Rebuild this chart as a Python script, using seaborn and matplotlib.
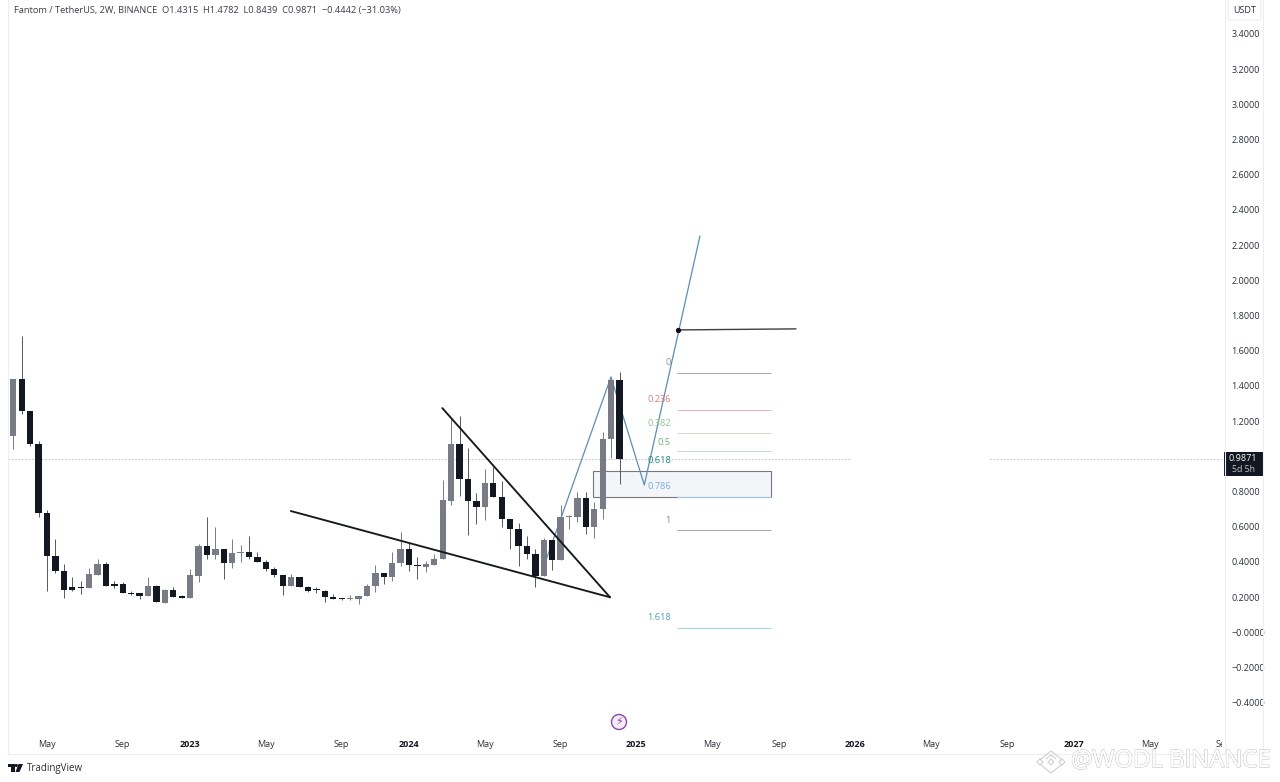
import matplotlib
matplotlib.use("Agg")
import matplotlib.pyplot as plt
import matplotlib.patheffects as pe
from matplotlib.patches import Rectangle, Circle, Polygon, FancyBboxPatch
from matplotlib.transforms import Bbox
import seaborn as sns
import pandas as pd

# bi-weekly candles
opens = [1.115, 1.437, 1.259, 1.070, 0.676, 0.433, 0.350, 0.255, 0.255, 0.253, 0.326, 0.386, 0.273, 0.273, 0.225, 0.221, 0.208, 0.263, 0.168, 0.240, 0.206, 0.197, 0.322, 0.490, 0.439,
         0.473, 0.392, 0.449, 0.456, 0.426, 0.401, 0.360, 0.324, 0.263, 0.312, 0.259, 0.240, 0.237, 0.202, 0.191, 0.188, 0.191, 0.206, 0.263, 0.335, 0.316, 0.392, 0.473, 0.380, 0.373,
         0.384, 0.418, 0.748, 1.070, 0.869, 0.748, 0.710, 0.846, 0.771, 0.642, 0.589, 0.490, 0.443, 0.322, 0.524, 0.413, 0.655, 0.655, 0.765, 0.596, 0.699, 1.098, 1.4315]
highs = [1.437, 1.683, 1.259, 1.089, 0.695, 0.528, 0.388, 0.316, 0.293, 0.363, 0.418, 0.401, 0.293, 0.288, 0.237, 0.225, 0.312, 0.268, 0.244, 0.259, 0.210, 0.358, 0.502, 0.653, 0.600,
         0.473, 0.532, 0.498, 0.547, 0.454, 0.411, 0.373, 0.324, 0.331, 0.312, 0.263, 0.255, 0.240, 0.218, 0.193, 0.212, 0.206, 0.274, 0.380, 0.335, 0.456, 0.570, 0.505, 0.426, 0.405,
         0.445, 0.865, 1.216, 1.229, 1.049, 0.793, 0.926, 0.941, 0.858, 0.642, 0.619, 0.547, 0.475, 0.536, 0.524, 0.721, 0.667, 0.795, 0.799, 0.740, 1.136, 1.452, 1.4782]
lows = [1.039, 1.240, 1.058, 0.653, 0.236, 0.335, 0.193, 0.236, 0.218, 0.253, 0.326, 0.263, 0.250, 0.221, 0.214, 0.187, 0.208, 0.170, 0.168, 0.202, 0.195, 0.197, 0.288, 0.418, 0.415,
        0.305, 0.367, 0.397, 0.415, 0.401, 0.350, 0.316, 0.212, 0.263, 0.259, 0.231, 0.221, 0.170, 0.189, 0.186, 0.186, 0.161, 0.206, 0.231, 0.274, 0.292, 0.377, 0.350, 0.305, 0.343,
        0.384, 0.418, 0.721, 0.774, 0.553, 0.615, 0.638, 0.771, 0.600, 0.475, 0.377, 0.415, 0.259, 0.322, 0.354, 0.413, 0.585, 0.625, 0.559, 0.534, 0.642, 0.988, 0.8439]
closes = [1.437, 1.259, 1.070, 0.676, 0.433, 0.350, 0.240, 0.240, 0.253, 0.329, 0.386, 0.263, 0.263, 0.221, 0.220, 0.208, 0.263, 0.170, 0.240, 0.202, 0.197, 0.326, 0.490, 0.441, 0.473,
          0.392, 0.449, 0.456, 0.426, 0.401, 0.360, 0.324, 0.263, 0.312, 0.259, 0.237, 0.238, 0.201, 0.191, 0.188, 0.191, 0.206, 0.263, 0.335, 0.314, 0.392, 0.473, 0.380, 0.377, 0.388,
          0.418, 0.752, 1.070, 0.869, 0.748, 0.710, 0.846, 0.771, 0.642, 0.589, 0.490, 0.443, 0.322, 0.524, 0.411, 0.655, 0.657, 0.765, 0.596, 0.699, 1.098, 1.4315, 0.9871]

y_ticks = [3.4, 3.2, 3.0, 2.8, 2.6, 2.4, 2.2, 2.0, 1.8, 1.6, 1.4, 1.2, 1.0, 0.8, 0.6, 0.4, 0.2, 0.0, -0.2, -0.4]
y_tick_labels = ["3.4000", "3.2000", "3.0000", "2.8000", "2.6000", "2.4000", "2.2000", "2.0000", "1.8000", "1.6000", "1.4000",
                 "1.2000", "", "0.8000", "0.6000", "0.4000", "0.2000", "\u22120.0000", "\u22120.2000", "\u22120.4000"]
x_tick_pos = [4, 13, 21, 30, 39, 47, 56, 65, 74, 83, 91, 100, 109, 118, 126, 135, 143.7]
x_tick_labels = ["May", "Sep", "2023", "May", "Sep", "2024", "May", "Sep", "2025", "May", "Sep", "2026", "May", "Sep", "2027", "May", "Sep"]

# drawn tools
wedge_top_x = [50.95, 70.87]
wedge_top_y = [1.274, 0.199]
wedge_low_x = [32.96, 70.87]
wedge_low_y = [0.689, 0.199]
path_x = [62.9, 70.98, 74.94, 81.55]
path_y = [0.360, 1.451, 0.837, 2.252]
target_x = [78.9, 92.95]
target_y = [1.718, 1.724]
fib_names = ["0", "0.236", "0.382", "0.5", "0.618", "0.786", "1", "1.618"]
fib_levels = [1.472, 1.263, 1.131, 1.028, 0.916, 0.767, 0.580, 0.023]
fib_label_y = [1.532, 1.320, 1.189, 1.081, 0.975, 0.827, 0.634, 0.083]
fib_line_colors = ["#a3a8bb", "#eeb0b0", "#cfdccf", "#c9d9c9", "#3f9a8e", "#9cc7e6", "#a6a8af", "#a3d6e6"]
fib_text_colors = ["#8d93a8", "#d9807f", "#8fc493", "#6fb274", "#1f8a80", "#78aedb", "#8a8d96", "#4d9fc2"]

last_price = 0.9871
FONT = "Open Sans"
UP = "#787b86"
DOWN = "#131722"
W, H = 1280, 782

sns.set_theme(style="white")
plt.rcParams["font.family"] = [FONT, "DejaVu Sans"]

df = pd.DataFrame({"bar": range(len(opens)), "open": opens, "high": highs, "low": lows, "close": closes})
df["body"] = (df["close"] - df["open"]).abs().clip(lower=0.006)
df["base"] = df[["open", "close"]].min(axis=1)
df["up"] = df["close"] >= df["open"]

fig = plt.figure(figsize=(W / 100, H / 100), dpi=100, facecolor="white")
ax = fig.add_axes([8 / W, 1 - 754 / H, (1227 - 8) / W, 754 / H])

for is_up, color in [(True, UP), (False, DOWN)]:
    part = df[df["up"] == is_up]
    ax.vlines(part["bar"], part["low"], part["high"], color=UP if is_up else "#55585f", linewidth=0.7, zorder=2)
    sns.barplot(data=part, x="bar", y="body", bottom=part["base"].to_numpy(), native_scale=True, errorbar=None,
                color=color, saturation=1, width=0.75, linewidth=0, zorder=3, ax=ax)

ax.add_patch(Rectangle((68.88, fib_levels[5]), 89.95 - 68.88, fib_levels[4] - fib_levels[5],
                       facecolor="#f4f5f9", edgecolor="#74777f", linewidth=0.8, zorder=1))

# last price line has a gap in the source image
ax.hlines(last_price, -0.63, 99.4, color="#b9bbc2", linewidth=0.6, linestyle=(0, (2, 2)), zorder=1)
ax.hlines(last_price, 116, 143.7, color="#b9bbc2", linewidth=0.6, linestyle=(0, (2, 2)), zorder=1)

sns.lineplot(x=wedge_top_x, y=wedge_top_y, sort=False, color="#16181f", linewidth=1.35, ax=ax, zorder=5)
sns.lineplot(x=wedge_low_x, y=wedge_low_y, sort=False, color="#16181f", linewidth=1.35, ax=ax, zorder=5)
sns.lineplot(x=path_x, y=path_y, sort=False, color="#5a8fb2", linewidth=0.9, ax=ax, zorder=2.5)
sns.lineplot(x=target_x, y=target_y, sort=False, color="#3a3d44", linewidth=1.0, ax=ax, zorder=5)
ax.plot(target_x[0], target_y[0], "o", color="#111111", markersize=2.8, zorder=6)

for name, level, label_y, line_c, text_c in zip(fib_names, fib_levels, fib_label_y, fib_line_colors, fib_text_colors):
    if name != "0.618":
        ax.hlines(level, 78.79, 89.99, color=line_c, linewidth=0.75, zorder=2)
    ax.text(78.1, label_y, name, color=text_c, fontsize=6.7, ha="right", va="center", zorder=6)

ax.set_xlim(-0.63, (1227 - 13.3) / 8.42)
ax.set_ylim((632.3 - 754) / 176, 632.3 / 176)
ax.set_xlabel("")
ax.set_ylabel("")
ax.grid(False)
ax.patch.set_alpha(0)
for side in ax.spines:
    ax.spines[side].set_visible(False)

ax.yaxis.tick_right()
ax.set_yticks(y_ticks)
ax.set_yticklabels(y_tick_labels)
ax.tick_params(axis="y", length=0, pad=3, labelsize=6.5, labelcolor="#2a2e39")
ax.set_xticks(x_tick_pos)
ax.set_xticklabels(x_tick_labels)
ax.tick_params(axis="x", length=0, pad=-10, labelsize=6.5, labelcolor="#2a2e39")
for label in ax.get_xticklabels():
    if label.get_text().isdigit():
        label.set_fontweight("bold")
        label.set_color("#131722")
# the last month label gets cut by the price scale
last_label = ax.get_xticklabels()[-1]
last_label.set_clip_box(Bbox([[0, 0], [1222, H]]))
last_label.set_clip_on(True)

# frame, header and logos on a pixel overlay
over = fig.add_axes([0, 0, 1, 1], zorder=10)
over.set_xlim(0, W)
over.set_ylim(H, 0)
over.axis("off")
over.patch.set_alpha(0)

for xs, ys in [([7.5, 7.5], [0, 754]), ([7.5, 1263], [754, 754]), ([1225, 1225], [0, 754]), ([1263, 1263], [0, 754])]:
    over.plot(xs, ys, color="#eceef3", linewidth=0.8)

over.text(14, 10, "Fantom / TetherUS, 2W, BINANCE  O1.4315  H1.4782  L0.8439  C0.9871  \u22120.4442 (\u221231.03%)",
          fontsize=6.65, color="#3a3e4a", va="center")
over.add_patch(FancyBboxPatch((1228, -3), 33, 23, boxstyle="round,pad=0,rounding_size=2", facecolor="white", edgecolor="#eceef3", linewidth=0.8))
over.text(1244.5, 10.5, "USDT", fontsize=6.5, color="#2a2e39", ha="center", va="center")

over.add_patch(Rectangle((1223.5, 452), 39.5, 24, facecolor="#131722", edgecolor="none"))
over.text(1243, 458.5, "0.9871", color="white", fontsize=6.5, ha="center", va="center")
over.text(1243, 470, "5d 5h", color="#c4c6cc", fontsize=6.3, ha="center", va="center")

over.add_patch(Circle((619, 722), 7.5, facecolor="#f6ecf8", edgecolor="#8a4aa8", linewidth=1))
over.text(619, 722, "\u26a1", family="DejaVu Sans", color="#7f3f9e", fontsize=8, ha="center", va="center")

# TradingView logo
for shape in [[(8, 764), (14.5, 764), (14.5, 772), (11, 772), (11, 767), (8, 767)], [(23, 764), (19.5, 772), (15.5, 772), (18.5, 764)]]:
    over.add_patch(Polygon(shape, closed=True, facecolor="#131722", edgecolor="none"))
over.add_patch(Circle((16.3, 765.5), 1.6, facecolor="#131722", edgecolor="none"))
over.text(27, 768, "TradingView", fontsize=7, color="#2a2e39", va="center")

# watermark
for shape in [[(1041, 759), (1051, 751), (1061, 759)], [(1046, 759), (1051, 755), (1056, 759)],
              [(1041, 765), (1051, 773), (1061, 765)], [(1051, 759), (1054, 762), (1051, 765), (1048, 762), (1051, 759)],
              [(1040, 759), (1043, 762), (1040, 765), (1037, 762), (1040, 759)], [(1062, 759), (1065, 762), (1062, 765), (1059, 762), (1062, 759)]]:
    over.plot(*zip(*shape), color="#c9c9c9", linewidth=0.7)
over.text(1071, 761, "@WODL BINANCE", fontsize=17.2, color="white", va="center", family="Open Sans",
          path_effects=[pe.withStroke(linewidth=0.9, foreground="#c4c4c4"), pe.Normal()])

fig.savefig("out.png", dpi=100, facecolor="white")
